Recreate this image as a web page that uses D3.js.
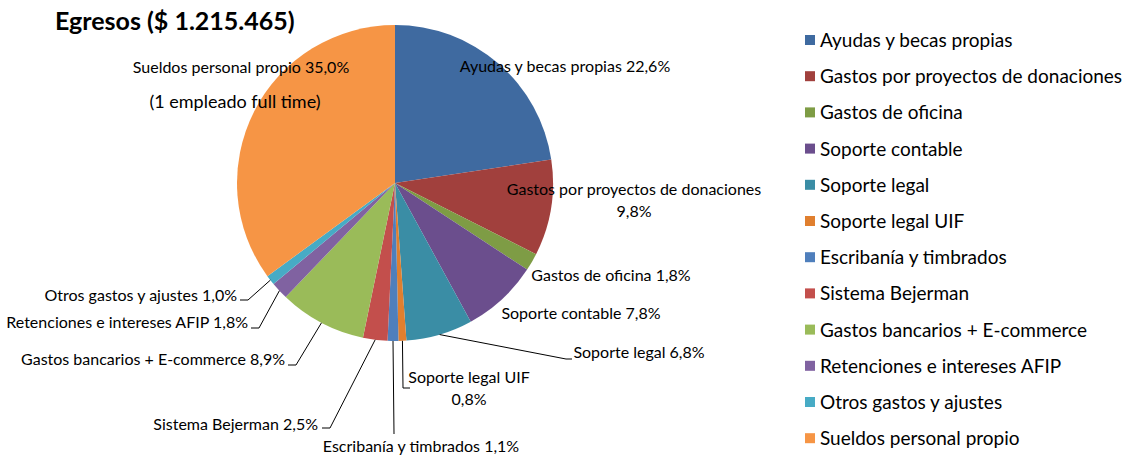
<!DOCTYPE html>
<html>
<head>
<meta charset="utf-8">
<script src="https://cdn.jsdelivr.net/npm/d3@7"></script>
<style>
  html, body { margin: 0; padding: 0; background: #fff; }
  svg { display: block; }
  text { font-family: Lato, "Open Sans", sans-serif; fill: #000; }
</style>
</head>
<body>
<svg id="chart" width="1137" height="457"></svg>
<script>
// ---- data ----
const title = "Egresos ($ 1.215.465)";
const categories = [
  "Ayudas y becas propias",
  "Gastos por proyectos de donaciones",
  "Gastos de oficina",
  "Soporte contable",
  "Soporte legal",
  "Soporte legal UIF",
  "Escribanía y timbrados",
  "Sistema Bejerman",
  "Gastos bancarios + E-commerce",
  "Retenciones e intereses AFIP",
  "Otros gastos y ajustes",
  "Sueldos personal propio"
];
const values = [22.6, 9.8, 1.8, 7.8, 6.8, 0.8, 1.1, 2.5, 8.9, 1.8, 1.0, 35.0];
const colors = ["#3F6AA0", "#A1403D", "#7E9C45", "#6B4E8D", "#3A8DA5", "#E07F2F",
                "#4F7FBC", "#C34F4C", "#9ABB59", "#8062A1", "#47ABC5", "#F69545"];
const extraNote = "(1 empleado full time)";

// ---- layout (positions only) ----
const cx = 395, cy = 183, R = 158;
const labelLayout = [
  { x: 565, y: 72, anchor: "middle", split: false },
  { x: 634, y: 195, anchor: "middle", split: true },
  { x: 611, y: 281, anchor: "middle", split: false },
  { x: 581, y: 319, anchor: "middle", split: false },
  { x: 639, y: 358, anchor: "middle", split: false, leader: [[566, 359], [572, 359]] },
  { x: 469, y: 383, anchor: "middle", split: true, leader: [[403, 388], [410, 388]] },
  { x: 421, y: 452, anchor: "middle", split: false, leader: [[394, 434]] },
  { x: 318, y: 430, anchor: "end", split: false, leader: [[330, 428], [322, 428]] },
  { x: 285, y: 365, anchor: "end", split: false, leader: [[296, 365], [288, 365]] },
  { x: 248, y: 328, anchor: "end", split: false, leader: [[259, 328], [251, 328]] },
  { x: 237, y: 301, anchor: "end", split: false, leader: [[248, 300], [240, 300]] },
  { x: 241, y: 73, anchor: "middle", split: false, note: { x: 235, y: 108 } }
];

const fmt = v => v.toFixed(1).replace(".", ",") + "%";

const svg = d3.select("#chart");

// title
svg.append("text")
  .attr("x", 55).attr("y", 30)
  .attr("font-size", 25).attr("font-weight", "bold")
  .text(title);

// pie
const pie = d3.pie().sort(null).value(d => d)(values);
const arc = d3.arc().innerRadius(0).outerRadius(R);
const g = svg.append("g").attr("transform", `translate(${cx},${cy})`);
g.selectAll("path.slice").data(pie).join("path")
  .attr("class", "slice")
  .attr("d", arc)
  .attr("fill", (d, i) => colors[i]);

// leaders
const edge = d => {
  const a = (d.startAngle + d.endAngle) / 2;
  return [cx + R * Math.sin(a), cy - R * Math.cos(a)];
};
const lineGen = d3.line();
pie.forEach((d, i) => {
  const L = labelLayout[i];
  if (!L.leader) return;
  const pts = [edge(d), ...L.leader];
  svg.append("path")
    .attr("d", lineGen(pts))
    .attr("fill", "none")
    .attr("stroke", "#000")
    .attr("stroke-width", 1);
});

// labels
pie.forEach((d, i) => {
  const L = labelLayout[i];
  const t = svg.append("text")
    .attr("font-size", 16)
    .attr("text-anchor", L.anchor);
  if (L.split) {
    t.append("tspan").attr("x", L.x).attr("y", L.y).text(categories[i]);
    t.append("tspan").attr("x", L.x).attr("y", L.y + 22).text(fmt(values[i]));
  } else {
    t.attr("x", L.x).attr("y", L.y).text(categories[i] + " " + fmt(values[i]));
  }
  if (L.note) {
    svg.append("text").attr("font-size", 18).attr("text-anchor", "middle")
      .attr("x", L.note.x).attr("y", L.note.y).text(extraNote);
  }
});

// legend
const lg = svg.append("g").attr("transform", "translate(805,40)");
const rows = lg.selectAll("g").data(categories).join("g")
  .attr("transform", (d, i) => `translate(0,${i * 36.2})`);
rows.append("rect").attr("x", 0).attr("y", -5).attr("width", 10).attr("height", 10)
  .attr("fill", (d, i) => colors[i]);
rows.append("text").attr("x", 15).attr("y", 7).attr("font-size", 19).text(d => d);
</script>
</body>
</html>
